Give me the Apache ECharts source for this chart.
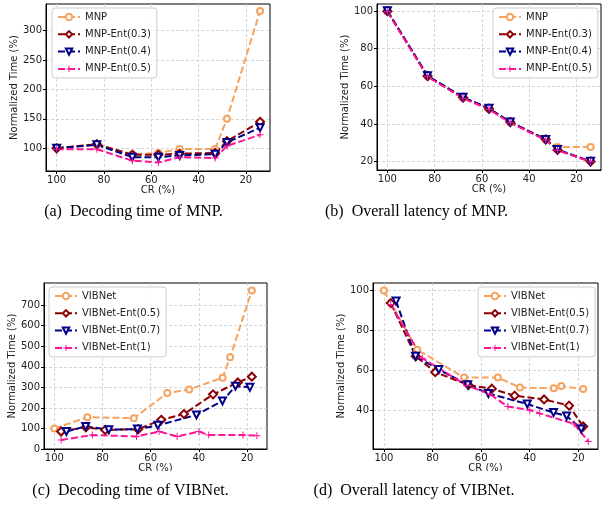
<!DOCTYPE html>
<html><head><meta charset="utf-8">
<script src="https://cdn.jsdelivr.net/npm/echarts@6/dist/echarts.min.js"></script>
<style>html,body{margin:0;padding:0;background:#fff}#c{width:608px;height:508px}</style>
</head><body><div id="c"></div>
<script>
// ---------- data ----------
const crTicks = [100, 80, 60, 40, 20];
const aYTicks = [100, 150, 200, 250, 300];
const bYTicks = [20, 40, 60, 80, 100];
const cYTicks = [0, 100, 200, 300, 400, 500, 600, 700];
const dYTicks = [40, 60, 80, 100];

const mnpCR = [100, 83, 68, 57, 48, 33, 28, 14];
const mnpDecode = [101, 106, 90, 92, 99, 99, 150, 333];
const mnpEnt03Decode = [100, 107, 89, 89, 91, 92, 112, 145];
const mnpEnt04Decode = [100, 106, 85, 85, 88, 90, 110, 135];
const mnpEnt05Decode = [98.5, 98.5, 79, 76, 85, 83.5, 104, 123];

const mnpLatency = [100, 65.3, 53.8, 48, 40.8, 31.6, 27.8, 27.8];
const mnpEnt03Latency = [100, 65.5, 54, 48.1, 41, 31.8, 26.2, 20];
const mnpEnt04Latency = [100.2, 65.6, 54.2, 48.3, 41, 31.7, 26.4, 20.1];
const mnpEnt05Latency = [99.7, 65.1, 53.6, 47.8, 40.6, 31.4, 26, 19.9];

const vibCR = [100, 86.3, 67, 53.1, 44, 30.1, 27, 18];
const vibEnt05CR = [97.2, 86.9, 78.9, 65.2, 55.6, 46.2, 34.1, 23.8, 18];
const vibEnt07CR = [95, 87, 77.4, 65.5, 57, 41, 30.2, 24.8, 18.8];
const vibEnt1CR = [97.2, 84.2, 65.9, 56.5, 49, 40, 35.9, 21.7, 15.9];

const vibDecode = [100, 155, 150, 272, 290, 347, 447, 771];
const vibEnt05Decode = [85, 106, 93, 96, 142, 170, 266, 324, 352];
const vibEnt07Decode = [85, 110, 94, 97, 115, 166, 234, 306, 300];
const vibEnt1Decode = [44, 68, 61, 85, 61, 85, 68, 68, 65];

const vibLatency = [100, 70.3, 56.3, 56.3, 51.3, 50.9, 52, 50.5];
const vibEnt05Latency = [93.7, 67, 59, 52.5, 50.7, 47.2, 45.3, 42.2, 31.7];
const vibEnt07Latency = [94.7, 67, 60.3, 52.7, 48.3, 43, 38.7, 37, 30.5];
const vibEnt1Latency = [93, 66, 52.3, 48, 41.7, 40, 38.3, 33, 24.2];

const captions = ['(a)  Decoding time of MNP.', '(b)  Overall latency of MNP.',
                  '(c)  Decoding time of VIBNet.', '(d)  Overall latency of VIBNet.'];
const mnpNames = ['MNP', 'MNP-Ent(0.3)', 'MNP-Ent(0.4)', 'MNP-Ent(0.5)'];
const vibNames = ['VIBNet', 'VIBNet-Ent(0.5)', 'VIBNet-Ent(0.7)', 'VIBNet-Ent(1)'];

// ---------- styles ----------
const colors = ['#f4a460', '#8b0000', '#00008b', '#ff1493'];
const PLUS = 'path://M4.3,0H5.7V4.3H10V5.7H5.7V10H4.3V5.7H0V4.3H4.3Z';
const symbols = [
  {symbol: 'emptyCircle', symbolSize: 6, symbolRotate: 0},
  {symbol: 'emptyDiamond', symbolSize: 8, symbolRotate: 0},
  {symbol: 'emptyTriangle', symbolSize: 7, symbolRotate: 180},
  {symbol: PLUS, symbolSize: 7, symbolRotate: 0}
];
const FONT = 'DejaVu Sans';
const zip = (xs, ys) => xs.map((x, i) => [x, ys[i]]);

function xAx(g, min, max) {
  return {
    type: 'value', gridIndex: g, inverse: true, min: min, max: max,
    name: 'CR (%)', nameLocation: 'middle', nameGap: 14,
    nameTextStyle: {fontSize: 10, color: '#222', fontFamily: FONT},
    axisLine: {show: true, onZero: false, lineStyle: {color: '#000', width: 1}},
    axisTick: {show: true, length: 3, lineStyle: {color: '#000'}, customValues: crTicks},
    axisLabel: {customValues: crTicks, margin: 4, fontSize: 10, color: '#222', fontFamily: FONT},
    splitLine: {show: true, lineStyle: {color: '#cccccc', type: [3, 2], width: 0.8}}
  };
}
function yAx(g, min, max, ticks) {
  return {
    type: 'value', gridIndex: g, min: min, max: max,
    name: 'Normalized Time (%)', nameLocation: 'middle', nameRotate: 90, nameGap: 26,
    nameTextStyle: {fontSize: 10, color: '#222', fontFamily: FONT},
    axisLine: {show: true, onZero: false, lineStyle: {color: '#000', width: 1}},
    axisTick: {show: true, length: 3, lineStyle: {color: '#000'}, customValues: ticks},
    axisLabel: {customValues: ticks, margin: 4, fontSize: 10, color: '#222', fontFamily: FONT},
    splitLine: {show: true, lineStyle: {color: '#cccccc', type: [3, 2], width: 0.8}}
  };
}
function ser(name, idx, g, xs, ys) {
  return Object.assign({
    type: 'line', name: name, xAxisIndex: g, yAxisIndex: g,
    data: zip(xs, ys), showSymbol: true, animation: false,
    lineStyle: {color: colors[idx], width: 2, type: [7, 3]},
    itemStyle: {color: colors[idx], borderWidth: 1.3}
  }, symbols[idx]);
}
function leg(names, left, top) {
  return {
    data: names, orient: 'vertical', left: left, top: top,
    itemWidth: 22, itemHeight: 8, itemGap: 7.3,
    padding: [4, 6, 4, 5],
    backgroundColor: 'rgba(255,255,255,0.85)', borderColor: '#cccccc', borderWidth: 1, borderRadius: 3,
    textStyle: {fontSize: 10, color: '#222', fontFamily: FONT}
  };
}

const series = [];
[mnpDecode, mnpEnt03Decode, mnpEnt04Decode, mnpEnt05Decode].forEach((ys, i) => series.push(ser(mnpNames[i], i, 0, mnpCR, ys)));
[mnpLatency, mnpEnt03Latency, mnpEnt04Latency, mnpEnt05Latency].forEach((ys, i) => series.push(ser(mnpNames[i], i, 1, mnpCR, ys)));
const vibXs = [vibCR, vibEnt05CR, vibEnt07CR, vibEnt1CR];
[vibDecode, vibEnt05Decode, vibEnt07Decode, vibEnt1Decode].forEach((ys, i) => series.push(ser(vibNames[i], i, 2, vibXs[i], ys)));
[vibLatency, vibEnt05Latency, vibEnt07Latency, vibEnt1Latency].forEach((ys, i) => series.push(ser(vibNames[i], i, 3, vibXs[i], ys)));

const capPos = [[133.5, 212], [416.5, 212], [130.5, 491], [414, 491]];
const graphic = [{type: 'rect', z: 100, shape: {x: 0, y: 471, width: 608, height: 6}, style: {fill: '#fff'}}];
captions.forEach((t, i) => graphic.push({
  type: 'text', z: 101, x: capPos[i][0], y: capPos[i][1],
  style: {text: t, align: 'center', verticalAlign: 'middle', fontSize: 16, fontFamily: 'Liberation Serif', fill: '#000'}
}));

const chart = echarts.init(document.getElementById('c'), null, {renderer: 'canvas'});
chart.setOption({
  animation: false,
  backgroundColor: '#fff',
  grid: [
    {left: 46, top: 4, width: 224, height: 167, show: true, borderColor: '#000', borderWidth: 1},
    {left: 377, top: 4, width: 224, height: 166, show: true, borderColor: '#000', borderWidth: 1},
    {left: 44, top: 283, width: 223, height: 166, show: true, borderColor: '#000', borderWidth: 1},
    {left: 373, top: 283, width: 225, height: 166, show: true, borderColor: '#000', borderWidth: 1}
  ],
  xAxis: [xAx(0, 9.8, 104.5), xAx(1, 9.6, 104.4), xAx(2, 11.7, 104.3), xAx(3, 11.9, 104.5)],
  yAxis: [yAx(0, 61.5, 345, aYTicks), yAx(1, 15.5, 103.8, bYTicks), yAx(2, 0, 808, cYTicks), yAx(3, 20.4, 103.8, dYTicks)],
  legend: [leg(mnpNames, 52, 8), leg(mnpNames, 493, 8), leg(vibNames, 49, 287), leg(vibNames, 478, 287)],
  series: series,
  graphic: graphic
});
</script>
</body></html>
